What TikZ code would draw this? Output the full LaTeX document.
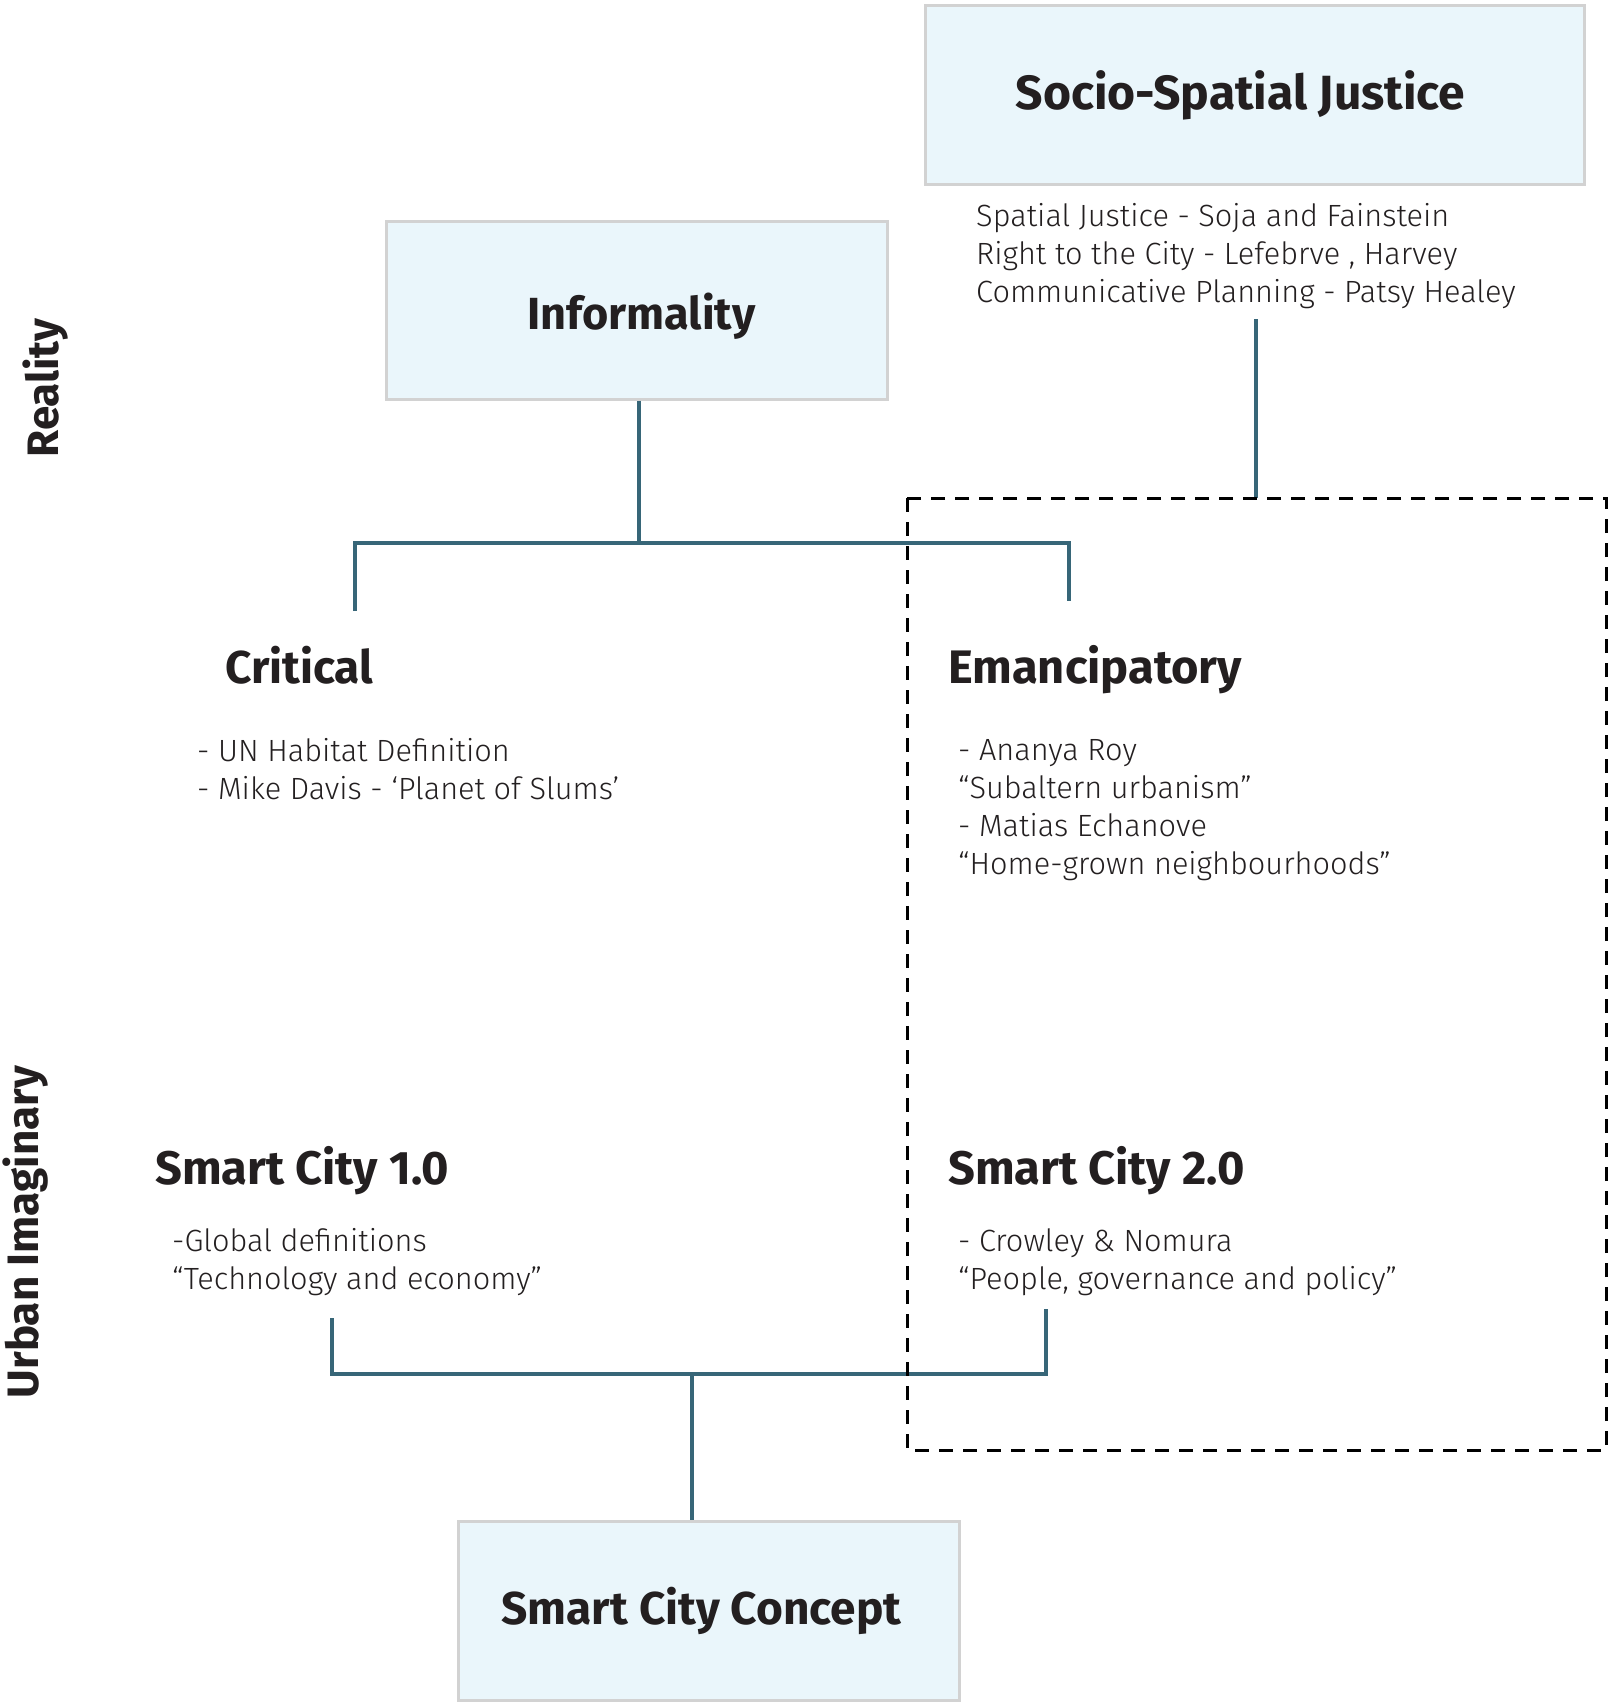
\documentclass[tikz,border=0pt]{standalone}
\usepackage{fontspec}
\setmainfont{Fira Sans}[UprightFont={* Light}, BoldFont={* Bold}]
\newfontfamily\headfont{Fira Sans}[UprightFont={* Bold}]
\newfontfamily\bodyfont{Fira Sans}[UprightFont={* Light}]
\definecolor{boxfill}{HTML}{EAF6FB}
\definecolor{boxline}{HTML}{D2D2D2}
\definecolor{conncol}{HTML}{376678}
\definecolor{ink}{HTML}{231F20}
\tikzset{
  box/.style={draw=boxline, fill=boxfill, line width=3pt, inner sep=0pt, text=ink},
  conn/.style={draw=conncol, line width=4pt},
  head/.style={font=\headfont\fontsize{46}{50}\selectfont, text=ink, inner sep=0pt, anchor=base west},
  chead/.style={font=\headfont\fontsize{47}{50}\selectfont, text=ink, inner sep=0pt, anchor=base west},
  body/.style={font=\bodyfont\fontsize{30.7}{38}\selectfont, text=ink, align=left, inner sep=0pt, anchor=north west},
  side/.style={font=\headfont\fontsize{44}{48}\selectfont, text=ink, inner sep=0pt, rotate=90},
  dashbox/.style={draw=black, line width=3pt, dash pattern=on 14pt off 10pt}
}
\begin{document}
\begin{tikzpicture}[x=1pt, y=-1pt]
\useasboundingbox (0,0) rectangle (1609,1703);
% boxes
\node[box, minimum width=659pt, minimum height=179pt, font=\headfont\fontsize{48}{52}\selectfont] (sj) at (1254.5,94.5) {\rule{0pt}{40pt}Socio-Spatial Justice\hspace*{28pt}};
\node[box, minimum width=501pt, minimum height=178pt, font=\headfont\fontsize{45}{50}\selectfont] (info) at (636.5,310) {\rule{0pt}{48pt}\hspace*{10pt}Informality};
\node[box, minimum width=501pt, minimum height=179pt, font=\headfont\fontsize{46}{50}\selectfont] (concept) at (708.5,1610.5) {Smart City Concept\hspace*{14pt}};
% texts
\node[body] (sjtext) at (976,203) {Spatial Justice - Soja and Fainstein\\Right to the City - Lefebrve , Harvey\\Communicative Planning - Patsy Healey};
\node[head] (crit) at (225,683) {Critical};
\node[body] (critlist) at (197,738) {- UN Habitat Definition\\- Mike Davis - ‘Planet of Slums’};
\node[chead] (eman) at (948,683) {Emancipatory};
\node[body] (emanlist) at (958,739) {- Ananya Roy\\“Subaltern urbanism”\\- Matias Echanove\\“Home-grown neighbourhoods”};
\node[chead] (sc1) at (155,1184) {Smart City 1.0};
\node[body] (sc1list) at (172,1228) {-Global definitions\\“Technology and economy”};
\node[chead] (sc2) at (948,1184) {Smart City 2.0};
\node[body] (sc2list) at (958,1228) {- Crowley \& Nomura\\“People, governance and policy”};
\node[side] (reality) at (46,388) {Reality};
\node[side] (urban) at (26,1232) {Urban Imaginary};
% connector points
\coordinate (cj) at (639,543);
\coordinate (ct) at (355,611);
\coordinate (et) at (1069,601);
\coordinate (sjb) at (1256,319);
\coordinate (dtop) at (1256,498);
\coordinate (s1b) at (332,1318);
\coordinate (s2b) at (1046,1309);
\coordinate (bj) at (692,1374);
% connectors
\draw[conn] (cj |- info.south) -- (cj);
\draw[conn] (ct) |- (cj) -| (et);
\draw[conn] (sjb) -- (dtop);
\draw[conn] (s1b) |- (bj) -| (s2b);
\draw[conn] (bj) -- (bj |- concept.north);
% dashed frame
\draw[dashbox] (907,498) rectangle (1606,1450);
\end{tikzpicture}
\end{document}
